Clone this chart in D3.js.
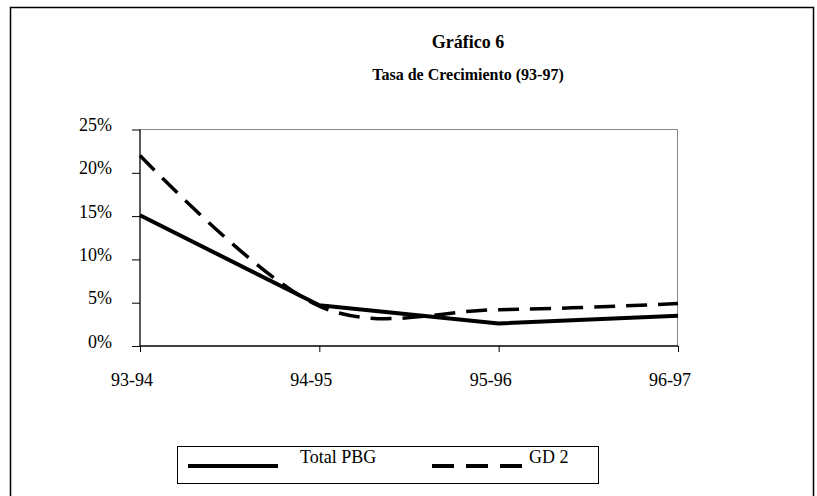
<!DOCTYPE html>
<html><head><meta charset="utf-8">
<script src="https://cdn.jsdelivr.net/npm/d3@7"></script>
<style>body{margin:0;background:#fff}svg{display:block}</style>
</head><body><svg id="c" width="817" height="496" font-family="Liberation Serif, Times New Roman, serif"></svg>
<script>
const categories = ["93-94","94-95","95-96","96-97"];
const totalPBG = [15.1, 4.7, 2.6, 3.5];
const gd2 = [22.0, 4.6, 4.2, 4.9];
const yTicks = [0,5,10,15,20,25];
const seriesNames = ["Total PBG","GD 2"];
const titleLines = ["Gráfico 6","Tasa de Crecimiento (93-97)"];
const FONT = "Liberation Serif, Times New Roman, serif";

const svg = d3.select("#c");
svg.append("rect").attr("x",10.5).attr("y",7.5).attr("width",803).attr("height",500)
  .attr("fill","#fff").attr("stroke","#000").attr("stroke-width",1.5);

svg.selectAll("text.title").data(titleLines).enter().append("text")
  .attr("x",468).attr("y",(d,i)=>i?80:48).attr("text-anchor","middle")
  .attr("font-family",FONT).attr("font-weight","bold").attr("font-size",(d,i)=>i?16:18).text(d=>d);

const x = d3.scalePoint().domain(categories).range([140,678]);
const y = d3.scaleLinear().domain([0,25]).range([346,129.5]);

svg.append("path").attr("d",`M140,129.5H677.5V346`).attr("fill","none").attr("stroke","#888").attr("stroke-width",1);

const yAxis = svg.append("g").attr("transform","translate(140,0)")
  .call(d3.axisLeft(y).tickValues(yTicks).tickFormat(d=>d+"%").tickSize(8).tickPadding(20));
const xAxis = svg.append("g").attr("transform","translate(0,346)")
  .call(d3.axisBottom(x).tickSize(6).tickPadding(22));
[yAxis,xAxis].forEach(a=>{
  a.attr("font-family",FONT).attr("font-size",18);
  a.select(".domain").attr("stroke","#000").attr("stroke-width",1.3);
  a.selectAll(".tick line").attr("stroke","#000").attr("stroke-width",1);
  a.selectAll("text").attr("fill","#000");
});
yAxis.selectAll(".tick text").attr("dy","1").attr("dominant-baseline","auto");
xAxis.selectAll(".tick text").attr("x",-8.5).attr("y",40).attr("dy",0);
yAxis.select(".domain").attr("d","M0,129.5V346");
xAxis.select(".domain").attr("d","M140,0H678");

const lineSolid = d3.line().x((d,i)=>x(categories[i])).y(d=>y(d));
const lineSmooth = d3.line().x((d,i)=>x(categories[i])).y(d=>y(d)).curve(d3.curveCardinal.tension(0));

svg.append("path").attr("d",lineSmooth(gd2)).attr("fill","none").attr("stroke","#000")
  .attr("stroke-width",3.5).attr("stroke-dasharray","21,11");
svg.append("path").attr("d",lineSolid(totalPBG)).attr("fill","none").attr("stroke","#000")
  .attr("stroke-width",4).attr("stroke-linejoin","round");

const lg = svg.append("g");
lg.append("rect").attr("x",177.5).attr("y",446.5).attr("width",421).attr("height",37)
  .attr("fill","#fff").attr("stroke","#000").attr("stroke-width",1);
const legItems = [{lx:188, tx:300, dash:null},{lx:432, tx:529, dash:"22,12"}];
legItems.forEach((it,i)=>{
  lg.append("line").attr("x1",it.lx).attr("x2",it.lx+90).attr("y1",466).attr("y2",466)
    .attr("stroke","#000").attr("stroke-width",4).attr("stroke-dasharray",it.dash);
  lg.append("text").attr("x",it.tx).attr("y",463).attr("font-family",FONT).attr("font-size",18).text(seriesNames[i]);
});
</script></body></html>
